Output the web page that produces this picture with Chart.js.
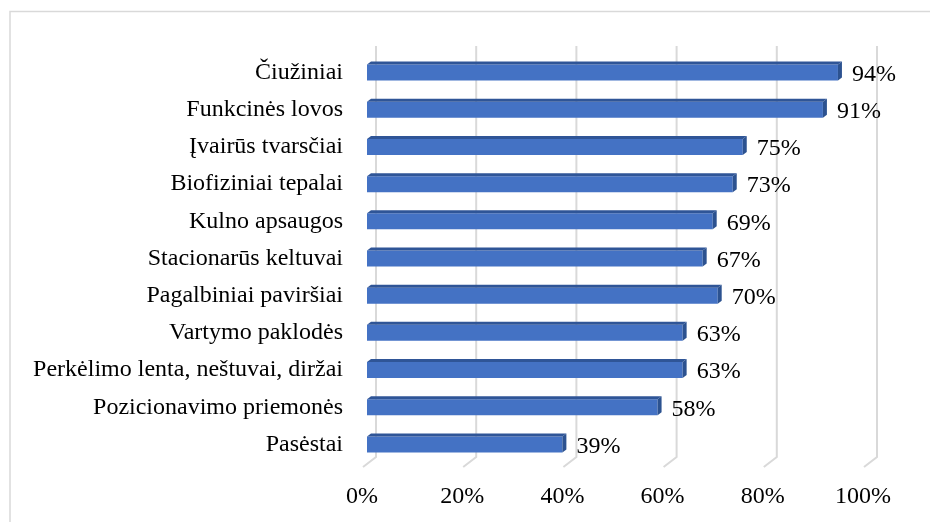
<!DOCTYPE html>
<html>
<head>
<meta charset="utf-8">
<script src="https://cdn.jsdelivr.net/npm/chart.js@4.4.0/dist/chart.umd.min.js"></script>
<style>
  html, body { margin: 0; padding: 0; background: #fff; }
  canvas { display: block; }
</style>
</head>
<body>
<canvas id="grafikas" width="930" height="522"></canvas>
<script>
// Duomenys
const kategorijos = [
  "Čiužiniai",
  "Funkcinės lovos",
  "Įvairūs tvarsčiai",
  "Biofiziniai tepalai",
  "Kulno apsaugos",
  "Stacionarūs keltuvai",
  "Pagalbiniai paviršiai",
  "Vartymo paklodės",
  "Perkėlimo lenta, neštuvai, diržai",
  "Pozicionavimo priemonės",
  "Pasėstai"
];
const reiksmes = [94, 91, 75, 73, 69, 67, 70, 63, 63, 58, 39];
const asiesZymos = [0, 20, 40, 60, 80, 100];

const sriftas = "'Liberation Serif', 'Times New Roman', serif";

// 3D efektas: rėmelis, tinklelis ir stulpelių šonai
const erdvinis = {
  id: "erdvinis",
  beforeDraw(chart) {
    const ctx = chart.ctx;
    ctx.save();
    ctx.strokeStyle = "#d9d9d9";
    ctx.lineWidth = 1.5;
    ctx.beginPath();
    ctx.moveTo(10, 522);
    ctx.lineTo(10, 11.5);
    ctx.lineTo(930, 11.5);
    ctx.stroke();
    ctx.restore();
  },
  beforeDatasetsDraw(chart) {
    const ctx = chart.ctx;
    const x = chart.scales.x;
    const top = chart.chartArea.top - 8;
    const apacia = chart.chartArea.bottom - 6;
    ctx.save();
    ctx.strokeStyle = "#d9d9d9";
    ctx.lineWidth = 2;
    asiesZymos.forEach(v => {
      const px = x.getPixelForValue(v);
      ctx.beginPath();
      ctx.moveTo(px + 9, top);
      ctx.lineTo(px + 9, apacia);
      ctx.lineTo(px - 4, apacia + 10);
      ctx.stroke();
    });
    ctx.restore();
  },
  afterDatasetsDraw(chart) {
    const ctx = chart.ctx;
    const dx = 4, dy = 3;
    ctx.save();
    chart.getDatasetMeta(0).data.forEach((bar, i) => {
      const virsus = bar.y - bar.height / 2;
      const apacia = bar.y + bar.height / 2;
      // viršutinė plokštuma
      ctx.fillStyle = "#2f5597";
      ctx.beginPath();
      ctx.moveTo(bar.base, virsus);
      ctx.lineTo(bar.base + dx, virsus - dy);
      ctx.lineTo(bar.x + dx, virsus - dy);
      ctx.lineTo(bar.x, virsus);
      ctx.closePath();
      ctx.fill();
      // dešinysis šonas
      ctx.fillStyle = "#2c5290";
      ctx.beginPath();
      ctx.moveTo(bar.x, virsus);
      ctx.lineTo(bar.x + dx, virsus - dy);
      ctx.lineTo(bar.x + dx, apacia - dy);
      ctx.lineTo(bar.x, apacia);
      ctx.closePath();
      ctx.fill();
      // reikšmės etiketė
      ctx.fillStyle = "#000";
      ctx.font = "24px " + sriftas;
      ctx.textAlign = "left";
      ctx.textBaseline = "middle";
      ctx.fillText(reiksmes[i] + "%", bar.x + 14, bar.y + 2);
    });
    ctx.restore();
  }
};

new Chart(document.getElementById("grafikas"), {
  type: "bar",
  data: {
    labels: kategorijos,
    datasets: [{
      data: reiksmes,
      backgroundColor: "#4472c4",
      borderWidth: 0,
      categoryPercentage: 1,
      barPercentage: 0.43
    }]
  },
  options: {
    indexAxis: "y",
    responsive: false,
    animation: false,
    layout: { padding: { top: 54, right: 62, left: 0, bottom: 0 } },
    plugins: {
      legend: { display: false },
      tooltip: { enabled: false }
    },
    scales: {
      x: {
        min: 0,
        max: 100,
        afterFit: s => { s.height = 59; },
        afterBuildTicks: s => { s.ticks = asiesZymos.map(v => ({ value: v })); },
        grid: { display: false, drawTicks: false },
        border: { display: false },
        ticks: {
          padding: 19,
          labelOffset: -5,
          color: "#000",
          font: { family: sriftas, size: 24 },
          callback: v => v + "%"
        }
      },
      y: {
        afterFit: s => { s.width = 367; },
        grid: { display: false, drawTicks: false },
        border: { display: false },
        ticks: {
          padding: 24,
          color: "#000",
          font: { family: sriftas, size: 24 }
        }
      }
    }
  },
  plugins: [erdvinis]
});
</script>
</body>
</html>
